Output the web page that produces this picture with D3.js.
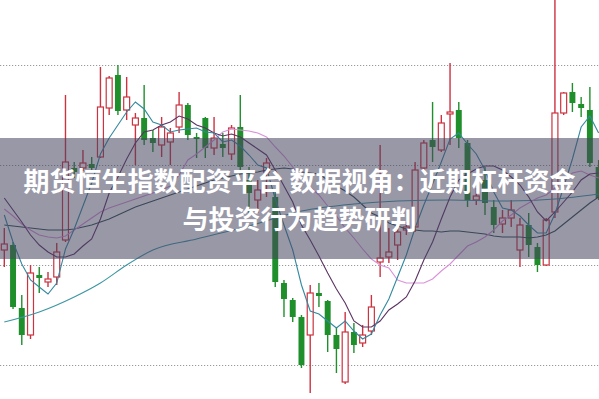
<!DOCTYPE html>
<html lang="zh">

<head>
    <meta charset="UTF-8">
    <title>K线图</title>
    <script type="text/javascript" src="https://cdnjs.cloudflare.com/ajax/libs/d3/7.8.5/d3.min.js"></script>
    <style>
        body { margin: 0; background: #fff; }
        svg { display: block; }
    </style>
</head>

<body>
    <div id="draw-here"></div>

    <script>
        var w = 599;
        var h = 399;

        // daily candles
        var open = [3215, 3220, 3157, 3130, 3190, 3183, 3188, 3225, 3297, 3297,
            3301, 3308, 3357, 3390, 3355, 3340, 3347, 3327, 3320, 3323,
            3338, 3360, 3328, 3347, 3317, 3321, 3311, 3338, 3285, 3265,
            3293, 3268, 3182, 3165, 3148, 3130, 3172, 3164, 3130, 3083,
            3133, 3122, 3134, 3203, 3208, 3220, 3235, 3238, 3297, 3325,
            3315, 3351, 3355, 3322, 3265, 3285, 3258, 3241, 3247, 3215,
            3240, 3218, 3200, 3253, 3352, 3373, 3361, 3355, 3298];
        var close = [3221, 3158, 3130, 3192, 3187, 3186, 3213, 3303, 3293, 3302,
            3297, 3358, 3387, 3354, 3368, 3347, 3325, 3322, 3338, 3332,
            3360, 3330, 3326, 3317, 3327, 3317, 3337, 3298, 3272, 3275,
            3302, 3183, 3166, 3148, 3100, 3172, 3169, 3130, 3116, 3133,
            3120, 3130, 3158, 3207, 3213, 3233, 3238, 3295, 3322, 3318,
            3342, 3353, 3327, 3265, 3269, 3262, 3240, 3247, 3255, 3240,
            3220, 3200, 3245, 3352, 3372, 3362, 3357, 3302, 3267];
        var high = [3237, 3223, 3170, 3200, 3198, 3193, 3222, 3370, 3303, 3315,
            3308, 3398, 3389, 3400, 3388, 3352, 3380, 3335, 3348, 3337,
            3373, 3362, 3332, 3348, 3348, 3332, 3340, 3370, 3298, 3285,
            3307, 3275, 3185, 3167, 3150, 3180, 3182, 3165, 3138, 3153,
            3142, 3140, 3170, 3320, 3237, 3237, 3243, 3303, 3325, 3363,
            3350, 3402, 3363, 3325, 3277, 3298, 3265, 3255, 3265, 3247,
            3252, 3222, 3247, 3470, 3373, 3382, 3368, 3378, 3305];
        var low = [3198, 3156, 3120, 3126, 3172, 3178, 3180, 3223, 3287, 3294,
            3294, 3307, 3350, 3350, 3345, 3300, 3320, 3313, 3308, 3300,
            3332, 3325, 3307, 3307, 3310, 3308, 3305, 3295, 3252, 3252,
            3268, 3178, 3148, 3143, 3097, 3072, 3158, 3113, 3092, 3081,
            3112, 3118, 3130, 3188, 3202, 3205, 3230, 3233, 3295, 3303,
            3313, 3320, 3317, 3258, 3260, 3250, 3232, 3232, 3238, 3198,
            3208, 3193, 3199, 3247, 3350, 3353, 3348, 3298, 3265];

        // moving average lines
        var ma5 = [3250, 3223, 3201, 3185, 3178, 3171, 3182, 3216, 3236, 3259,
            3282, 3311, 3327, 3340, 3353, 3363, 3356, 3343, 3340, 3333,
            3335, 3336, 3337, 3333, 3332, 3323, 3325, 3319, 3310, 3300,
            3297, 3266, 3240, 3215, 3180, 3154, 3151, 3144, 3137, 3144,
            3134, 3126, 3131, 3150, 3166, 3188, 3210, 3237, 3260, 3281,
            3303, 3326, 3332, 3321, 3311, 3295, 3273, 3257, 3255, 3249,
            3240, 3232, 3232, 3251, 3278, 3306, 3338, 3349, 3332];
        var ma10 = [3267, 3255, 3243, 3230, 3220, 3213, 3208, 3208, 3211, 3219,
            3226, 3246, 3272, 3288, 3306, 3322, 3333, 3335, 3340, 3343,
            3349, 3346, 3340, 3337, 3332, 3329, 3331, 3328, 3322, 3316,
            3310, 3295, 3279, 3263, 3240, 3225, 3209, 3192, 3176, 3162,
            3144, 3138, 3138, 3144, 3155, 3161, 3168, 3184, 3205, 3223,
            3246, 3268, 3285, 3291, 3296, 3299, 3299, 3295, 3288, 3280,
            3268, 3253, 3244, 3253, 3263, 3273, 3285, 3291, 3292];
        var ma20 = [3256, 3249, 3241, 3235, 3230, 3228, 3227, 3229, 3235, 3241,
            3247, 3253, 3257, 3260, 3263, 3266, 3269, 3272, 3275, 3279,
            3290, 3305, 3311, 3318, 3325, 3333, 3336, 3335, 3334, 3332,
            3328, 3318, 3309, 3298, 3287, 3278, 3270, 3259, 3249, 3237,
            3227, 3216, 3206, 3200, 3197, 3185, 3182, 3182, 3182, 3186,
            3194, 3201, 3210, 3219, 3223, 3228, 3235, 3244, 3250, 3257,
            3262, 3267, 3270, 3277, 3285, 3292, 3294, 3290, 3287];
        var ma30 = [3240, 3239, 3238, 3237, 3236, 3235, 3235, 3235, 3236, 3238,
            3240, 3243, 3246, 3250, 3254, 3258, 3261, 3264, 3267, 3270,
            3273, 3276, 3279, 3282, 3285, 3287, 3289, 3291, 3292, 3293,
            3295, 3296, 3297, 3296, 3293, 3292, 3291, 3285, 3279, 3274,
            3268, 3260, 3252, 3248, 3242, 3239, 3236, 3235, 3234, 3234,
            3233, 3234, 3234, 3233, 3232, 3231, 3229, 3228, 3228, 3228,
            3227, 3228, 3230, 3234, 3241, 3248, 3255, 3262, 3268];
        // long average, read at a few days only
        var ma60Day = [0, 4, 8, 11, 14, 17, 22, 28, 34, 40, 45, 51, 57, 63, 68];
        var ma60 = [3143, 3153, 3168, 3182, 3200, 3215, 3226, 3239, 3254, 3261, 3264, 3265, 3264, 3266, 3271];

        var gridTicks = [3100, 3200, 3300, 3400];

        var title1 = "期货恒生指数配资平台 数据视角：近期杠杆资金";
        var title2 = "与投资行为趋势研判";

        var days = open.map(function(d, i) { return i; });

        var svg = d3.select("#draw-here")
            .append("svg")
            .attr("width", w)
            .attr("height", h);

        var x = d3.scaleBand()
            .domain(days)
            .range([-0.07, 603])
            .padding(0);

        var y = d3.scaleLinear()
            .domain([3066, 3465])
            .range([h, 0]);

        var bw = x.bandwidth() * 0.68;
        function cx(d) { return x(d) + x.bandwidth() / 2; }

        // dotted horizontal grid
        var grid = svg.append("g")
            .call(d3.axisLeft(y).tickValues(gridTicks).tickSize(-w).tickFormat(""));
        grid.select(".domain").remove();
        grid.selectAll(".tick line")
            .attr("stroke", "#9a9a9a")
            .attr("stroke-dasharray", "1.2,1.8");

        var red = "#cc3240";
        var green = "#1f8f2c";

        // candles
        var candle = svg.append("g").selectAll("g")
            .data(days)
            .enter()
            .append("g");

        candle.each(function(i) {
            var g = d3.select(this);
            var up = close[i] >= open[i];
            var col = up ? red : green;
            var top = y(Math.max(open[i], close[i]));
            var bot = y(Math.min(open[i], close[i]));
            var bh = Math.max(1, bot - top);
            if (up) {
                g.append("line")
                    .attr("x1", cx(i)).attr("x2", cx(i))
                    .attr("y1", y(high[i])).attr("y2", top)
                    .attr("stroke", col).attr("stroke-width", 1.4);
                g.append("line")
                    .attr("x1", cx(i)).attr("x2", cx(i))
                    .attr("y1", top + bh).attr("y2", y(low[i]))
                    .attr("stroke", col).attr("stroke-width", 1.4);
                g.append("rect")
                    .attr("x", cx(i) - bw / 2)
                    .attr("y", top)
                    .attr("width", bw)
                    .attr("height", bh)
                    .attr("fill", "#fff")
                    .attr("stroke", col)
                    .attr("stroke-width", 1.2);
            } else {
                g.append("line")
                    .attr("x1", cx(i)).attr("x2", cx(i))
                    .attr("y1", y(high[i])).attr("y2", y(low[i]))
                    .attr("stroke", col).attr("stroke-width", 1.4);
                g.append("rect")
                    .attr("x", cx(i) - bw / 2)
                    .attr("y", top)
                    .attr("width", bw)
                    .attr("height", bh)
                    .attr("fill", col);
            }
        });

        // moving averages on top of the candles
        var line = d3.line()
            .x(function(d) { return cx(d[0]); })
            .y(function(d) { return y(d[1]); });

        var maSeries = [
            { vals: days.map(function(d) { return [d, ma30[d]]; }), color: "#2e4b4e", curve: d3.curveLinear },
            { vals: ma60Day.map(function(d, k) { return [d, ma60[k]]; }), color: "#3b97a3", curve: d3.curveMonotoneX },
            { vals: days.map(function(d) { return [d, ma20[d]]; }), color: "#d992d9", curve: d3.curveLinear },
            { vals: days.map(function(d) { return [d, ma10[d]]; }), color: "#5c3263", curve: d3.curveLinear },
            { vals: days.map(function(d) { return [d, ma5[d]]; }), color: "#3389a0", curve: d3.curveLinear }
        ];

        svg.append("g").selectAll("path")
            .data(maSeries)
            .enter()
            .append("path")
            .attr("d", function(s) { return line.curve(s.curve)(s.vals); })
            .attr("fill", "none")
            .attr("stroke", function(s) { return s.color; })
            .attr("stroke-width", 1.1);

        // grey title banner over the chart
        svg.append("rect")
            .attr("x", 0)
            .attr("y", 138)
            .attr("width", w)
            .attr("height", 121)
            .attr("fill", "rgb(70,68,95)")
            .attr("fill-opacity", 0.55);

        svg.selectAll("text.title")
            .data([title1, title2])
            .enter()
            .append("text")
            .attr("class", "title")
            .text(function(d) { return d; })
            .attr("x", w / 2)
            .attr("y", function(d, i) { return i === 0 ? 191 : 229; })
            .attr("text-anchor", "middle")
            .attr("font-family", "'Noto Sans CJK SC', sans-serif")
            .attr("font-weight", "bold")
            .attr("font-size", "26px")
            .attr("fill", "#fff");
    </script>
</body>

</html>
